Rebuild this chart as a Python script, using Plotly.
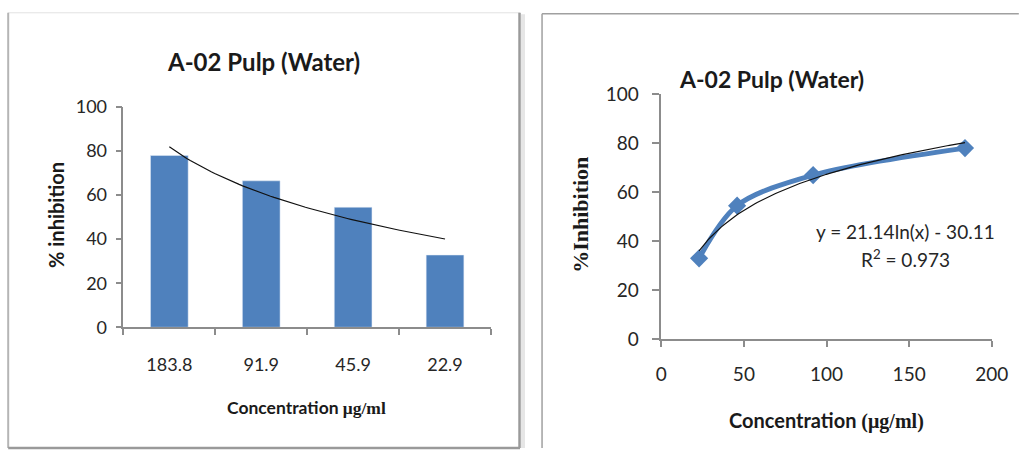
import numpy as np
import plotly.graph_objects as go

# ---- data ----
conc_labels = ["183.8", "91.9", "45.9", "22.9"]
inhibition_bar = [78.0, 66.5, 54.5, 32.8]

conc_values = [22.9, 45.9, 91.9, 183.8]
inhibition_line = [33.0, 54.5, 67.0, 78.0]

title_text = "A-02 Pulp (Water)"
eq_text = "y = 21.14ln(x) - 30.11"
r2_text = "R<sup>2</sup> = 0.973"

# The captured page is a little larger than the picture (body margin etc.),
# so target (picture) positions are converted into figure pixels.
OFF = 8
SX = 1019 / 1044
SY = 457 / 475
W, H = 1028, 459
BLUE = "#4F81BD"
AXC = "#8c8c8c"
TXT = "#262626"
SANS = "Lato, 'Open Sans', sans-serif"
SERIF = "'Liberation Serif', 'DejaVu Serif', serif"

def fx(x):
    return x / SX - OFF

def fy(y):
    return y / SY - OFF

def px(x):
    return fx(x) / W

def py(y):
    return 1 - min(max(fy(y), 0), H) / H

fig = go.Figure()

# ---- left chart: bars with log trendline over category index ----
idx = np.arange(1, len(conc_labels) + 1)
fig.add_trace(go.Bar(x=idx, y=inhibition_bar, marker_color=BLUE, width=0.41,
                     xaxis="x", yaxis="y", showlegend=False))
a1, b1 = np.polyfit(np.log(idx), inhibition_bar, 1)
tx1 = np.linspace(1, len(idx), 80)
fig.add_trace(go.Scatter(x=tx1, y=a1 * np.log(tx1) + b1, mode="lines",
                         line=dict(color="#111111", width=1.2),
                         xaxis="x", yaxis="y", showlegend=False, hoverinfo="skip"))

# ---- right chart: smoothed line + log trendline ----
fig.add_trace(go.Scatter(x=conc_values, y=inhibition_line, mode="lines+markers",
                         line=dict(color=BLUE, width=5, shape="spline", smoothing=0.9),
                         marker=dict(symbol="diamond", size=14, color=BLUE),
                         xaxis="x2", yaxis="y2", showlegend=False))
a2, b2 = np.polyfit(np.log(conc_values), inhibition_line, 1)
tx2 = np.linspace(min(conc_values), max(conc_values), 120)
fig.add_trace(go.Scatter(x=tx2, y=a2 * np.log(tx2) + b2, mode="lines",
                         line=dict(color="#111111", width=1.2),
                         xaxis="x2", yaxis="y2", showlegend=False, hoverinfo="skip"))

tickfont_l = dict(family=SANS, size=18, color=TXT)
tickfont_r = dict(family=SANS, size=19, color=TXT)

fig.update_layout(
    width=W, height=H,
    margin=dict(l=0, r=0, t=0, b=0),
    paper_bgcolor="white", plot_bgcolor="rgba(0,0,0,0)",
    xaxis=dict(domain=[px(125), px(492)], range=[0.5, 4.5], anchor="y",
               tickmode="array", tickvals=list(idx), ticktext=conc_labels,
               ticks="", showgrid=False, zeroline=False,
               showline=True, linecolor=AXC, linewidth=1.5,
               tickfont=tickfont_l, ticklabelstandoff=20,
               minor=dict(tickmode="array", tickvals=[0.5, 1.5, 2.5, 3.5, 4.5],
                          ticks="outside", ticklen=6, tickcolor=AXC, tickwidth=1.5, showgrid=False)),
    yaxis=dict(domain=[py(327), py(104)], range=[0, 100], anchor="x",
               tickmode="array", tickvals=[0, 20, 40, 60, 80, 100],
               ticks="outside", ticklen=6, tickcolor=AXC, tickwidth=1.5,
               showgrid=False, zeroline=False,
               showline=True, linecolor=AXC, linewidth=1.5,
               tickfont=tickfont_l, ticklabelstandoff=5),
    xaxis2=dict(domain=[px(662), px(992)], range=[0, 200], anchor="y2",
                tickmode="array", tickvals=[0, 50, 100, 150, 200],
                ticks="outside", ticklen=6, tickcolor=AXC, tickwidth=1.5,
                showgrid=False, zeroline=False,
                showline=True, linecolor=AXC, linewidth=1.5,
                tickfont=tickfont_r, ticklabelstandoff=11),
    yaxis2=dict(domain=[py(339), py(91)], range=[0, 100], anchor="x2",
                tickmode="array", tickvals=[0, 20, 40, 60, 80, 100],
                ticks="outside", ticklen=7, tickcolor=AXC, tickwidth=1.5,
                showgrid=False, zeroline=False,
                showline=True, linecolor=AXC, linewidth=1.5,
                tickfont=tickfont_r, ticklabelstandoff=10),
)

annotations = [
    dict(text="<b>" + title_text + "</b>", x=px(265), y=py(58), xref="paper", yref="paper",
         showarrow=False, font=dict(family=SANS, size=24, color="#1a1a1a"),
         xanchor="center", yanchor="middle"),
    dict(text="<b>Concentration <span style=\"font-family:'Liberation Serif', serif\">μg/ml</span></b>",
         x=px(308), y=py(408), xref="paper", yref="paper", showarrow=False,
         font=dict(family=SANS, size=17.5, color="#1a1a1a"), xanchor="center", yanchor="middle"),
    dict(text="<b>% inhibition</b>", x=px(57), y=py(213), xref="paper", yref="paper",
         showarrow=False, textangle=-90, font=dict(family=SANS, size=20, color="#1a1a1a"),
         xanchor="center", yanchor="middle"),
    dict(text="<b>" + title_text + "</b>", x=px(772), y=py(76), xref="paper", yref="paper",
         showarrow=False, font=dict(family=SANS, size=23, color="#1a1a1a"),
         xanchor="center", yanchor="middle"),
    dict(text="<b>Concentration <span style=\"font-family:'Liberation Serif', serif\">(μg/ml)</span></b>",
         x=px(827), y=py(421), xref="paper", yref="paper", showarrow=False,
         font=dict(family=SANS, size=20, color="#1a1a1a"), xanchor="center", yanchor="middle"),
    dict(text="<b>%Inhibition</b>", x=px(582), y=py(213), xref="paper", yref="paper",
         showarrow=False, textangle=-90, font=dict(family=SERIF, size=22, color="#1a1a1a"),
         xanchor="center", yanchor="middle"),
    dict(text=eq_text, x=px(906), y=py(230), xref="paper", yref="paper", showarrow=False,
         font=dict(family=SANS, size=19, color=TXT), xanchor="center", yanchor="middle"),
    dict(text=r2_text, x=px(906), y=py(257), xref="paper", yref="paper", showarrow=False,
         font=dict(family=SANS, size=19, color=TXT), xanchor="center", yanchor="middle"),
]
fig.update_layout(annotations=annotations)

def line_shape(x0, y0, x1, y1, color, width):
    return dict(type="line", xref="paper", yref="paper",
                x0=px(x0), y0=py(y0), x1=px(x1), y1=py(y1),
                line=dict(color=color, width=width), layer="below")

shapes = [
    # left panel shadow
    line_shape(524, 10, 524, 457, "#e6e6e6", 4),
    # left panel frame
    line_shape(10, 8.5, 521, 8.5, "#e2e2e2", 1),
    line_shape(10, 8.5, 10, 452, "#b5b5b5", 2),
    line_shape(520.5, 8.5, 520.5, 452, "#9a9a9a", 2.5),
    line_shape(10, 451.5, 521, 451.5, "#9a9a9a", 2.5),
    # right panel frame
    line_shape(543, 9.5, 1019, 9.5, "#a0a0a0", 1.5),
    line_shape(543, 9.5, 543, 457, "#a0a0a0", 1.5),
]
fig.update_layout(shapes=shapes)

fig.write_html("out.html")
